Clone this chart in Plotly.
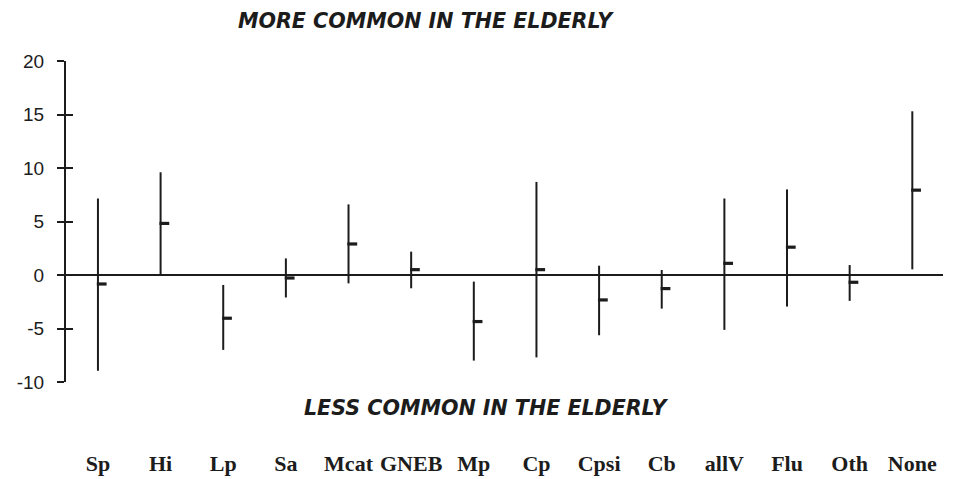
import plotly.graph_objects as go

categories = ["Sp", "Hi", "Lp", "Sa", "Mcat", "GNEB", "Mp", "Cp", "Cpsi", "Cb", "allV", "Flu", "Oth", "None"]
mean_vals = [-0.84, 4.82, -4.04, -0.28, 2.9, 0.5, -4.35, 0.5, -2.33, -1.27, 1.09, 2.6, -0.68, 7.93]
upper_vals = [7.15, 9.6, -0.93, 1.55, 6.6, 2.18, -0.62, 8.7, 0.87, 0.47, 7.15, 8.0, 0.93, 15.3]
lower_vals = [-8.95, 0.0, -7.0, -2.1, -0.78, -1.24, -8.0, -7.7, -5.63, -3.14, -5.13, -2.95, -2.42, 0.53]
y_ticks = [-10, -5, 0, 5, 10, 15, 20]
y_tick_text = ["-10", "-5", "0", "5", "10", "15", "20"]

ink = "#1c1c1c"
idx = list(range(len(categories)))

# vertical range lines
lx, ly = [], []
for i, lo, hi in zip(idx, lower_vals, upper_vals):
    lx += [i, i, None]
    ly += [lo, hi, None]

fig = go.Figure()
fig.add_trace(go.Scatter(x=lx, y=ly, mode="lines", line=dict(color=ink, width=2),
                         hoverinfo="skip", showlegend=False))
# mean dashes (drawn just right of each line)
fig.add_trace(go.Scatter(x=[i + 0.06 for i in idx], y=mean_vals, mode="markers",
                         marker=dict(symbol="line-ew-open", size=7, color=ink,
                                     line=dict(color=ink, width=3.2)),
                         showlegend=False))
fig.add_trace(go.Scatter(x=[None], y=[None], yaxis="y2", showlegend=False, hoverinfo="skip"))

fig.update_layout(
    width=955, height=479,
    margin=dict(l=58, r=20, t=53, b=105),
    paper_bgcolor="white", plot_bgcolor="white",
    showlegend=False,
    xaxis=dict(range=[-0.51, 13.49], tickvals=idx, ticktext=categories, ticks="",
               showgrid=False, zeroline=False, showline=False, automargin=False,
               ticklabelstandoff=66,
               tickfont=dict(family="Liberation Serif", size=22, color=ink, weight="bold")),
    yaxis=dict(range=[-10, 20], tickvals=y_ticks, ticktext=y_tick_text, ticks="outside",
               ticklen=7, tickwidth=2, automargin=False,
               tickcolor=ink, showline=True, linecolor=ink, linewidth=2,
               showgrid=False, zeroline=True, zerolinecolor=ink, zerolinewidth=2,
               ticklabelstandoff=9,
               tickfont=dict(family="Liberation Sans", size=19, color=ink)),
    yaxis2=dict(range=[-10, 20], matches="y", overlaying="y", side="left", tickvals=y_ticks,
                ticks="inside", ticklen=7, tickwidth=2, tickcolor=ink, automargin=False,
                showticklabels=False, showgrid=False, zeroline=False, showline=False),
)

fig.add_annotation(text="<b><i>MORE COMMON IN THE ELDERLY</i></b>", xref="paper", yref="paper",
                   x=0.411, y=1.126, showarrow=False, xanchor="center", yanchor="middle",
                   borderpad=0,
                   font=dict(family="DejaVu Sans", size=20.6, color=ink))
fig.add_annotation(text="<b><i>LESS COMMON IN THE ELDERLY</i></b>", xref="paper", yref="paper",
                   x=0.479, y=-0.081, showarrow=False, xanchor="center", yanchor="middle",
                   borderpad=0,
                   font=dict(family="DejaVu Sans", size=20.6, color=ink))

fig.write_html("out.html")
